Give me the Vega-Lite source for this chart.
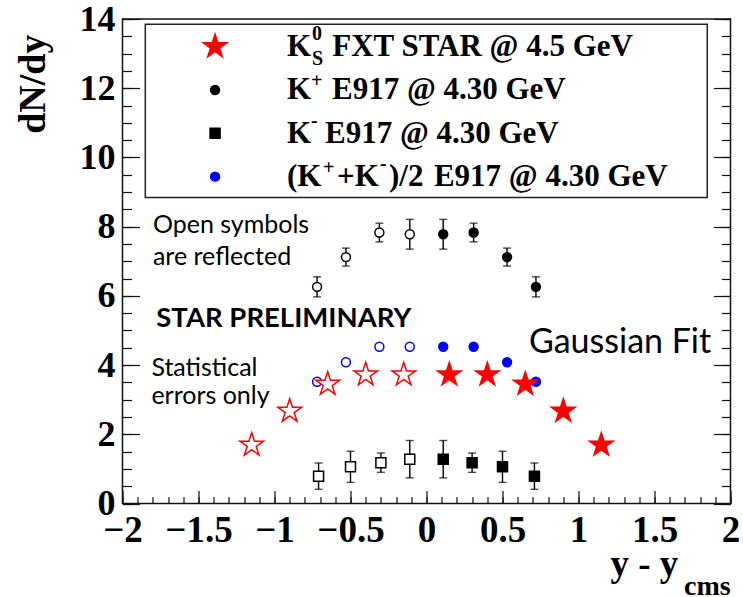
{
  "$schema": "https://vega.github.io/schema/vega-lite/v6.json",
  "width": 608,
  "height": 484.5,
  "autosize": {"type": "none"},
  "padding": {"left": 122.5, "top": 19, "right": 12.5, "bottom": 93.5},
  "background": "white",
  "config": {
    "view": {"stroke": "#111", "strokeWidth": 1.5},
    "axis": {
      "grid": false, "domain": false, "tickColor": "#111", "tickWidth": 1.2,
      "labelFont": "Liberation Serif", "labelFontWeight": "bold", "labelColor": "black",
      "labelFlush": false, "labelOverlap": false, "labelBound": false,
      "titleFont": "Liberation Serif", "titleFontWeight": "bold", "titleColor": "black"
    }
  },
  "datasets": {
    "pts": [
      {"series": "Kp", "rap": 0.11, "dndy": 7.78, "err": 0.43, "reflected": false},
      {"series": "Kp", "rap": 0.31, "dndy": 7.83, "err": 0.27, "reflected": false},
      {"series": "Kp", "rap": 0.53, "dndy": 7.12, "err": 0.26, "reflected": false},
      {"series": "Kp", "rap": 0.72, "dndy": 6.26, "err": 0.29, "reflected": false},
      {"series": "Kp", "rap": -0.11, "dndy": 7.78, "err": 0.43, "reflected": true},
      {"series": "Kp", "rap": -0.31, "dndy": 7.83, "err": 0.27, "reflected": true},
      {"series": "Kp", "rap": -0.53, "dndy": 7.12, "err": 0.26, "reflected": true},
      {"series": "Kp", "rap": -0.72, "dndy": 6.26, "err": 0.29, "reflected": true},
      {"series": "Km", "rap": 0.11, "dndy": 1.28, "err": 0.54, "reflected": false},
      {"series": "Km", "rap": 0.30, "dndy": 1.18, "err": 0.28, "reflected": false},
      {"series": "Km", "rap": 0.50, "dndy": 1.06, "err": 0.45, "reflected": false},
      {"series": "Km", "rap": 0.71, "dndy": 0.79, "err": 0.38, "reflected": false},
      {"series": "Km", "rap": -0.11, "dndy": 1.28, "err": 0.54, "reflected": true},
      {"series": "Km", "rap": -0.30, "dndy": 1.18, "err": 0.28, "reflected": true},
      {"series": "Km", "rap": -0.50, "dndy": 1.06, "err": 0.45, "reflected": true},
      {"series": "Km", "rap": -0.71, "dndy": 0.79, "err": 0.38, "reflected": true},
      {"series": "Kavg", "rap": 0.11, "dndy": 4.53, "err": 0, "reflected": false},
      {"series": "Kavg", "rap": 0.31, "dndy": 4.53, "err": 0, "reflected": false},
      {"series": "Kavg", "rap": 0.53, "dndy": 4.08, "err": 0, "reflected": false},
      {"series": "Kavg", "rap": 0.72, "dndy": 3.52, "err": 0, "reflected": false},
      {"series": "Kavg", "rap": -0.11, "dndy": 4.53, "err": 0, "reflected": true},
      {"series": "Kavg", "rap": -0.31, "dndy": 4.53, "err": 0, "reflected": true},
      {"series": "Kavg", "rap": -0.53, "dndy": 4.08, "err": 0, "reflected": true},
      {"series": "Kavg", "rap": -0.72, "dndy": 3.52, "err": 0, "reflected": true},
      {"series": "K0S", "rap": 0.15, "dndy": 3.72, "err": 0, "reflected": false},
      {"series": "K0S", "rap": 0.40, "dndy": 3.72, "err": 0, "reflected": false},
      {"series": "K0S", "rap": 0.65, "dndy": 3.45, "err": 0, "reflected": false},
      {"series": "K0S", "rap": 0.90, "dndy": 2.67, "err": 0, "reflected": false},
      {"series": "K0S", "rap": 1.15, "dndy": 1.69, "err": 0, "reflected": false},
      {"series": "K0S", "rap": -0.15, "dndy": 3.72, "err": 0, "reflected": true},
      {"series": "K0S", "rap": -0.40, "dndy": 3.72, "err": 0, "reflected": true},
      {"series": "K0S", "rap": -0.65, "dndy": 3.45, "err": 0, "reflected": true},
      {"series": "K0S", "rap": -0.90, "dndy": 2.67, "err": 0, "reflected": true},
      {"series": "K0S", "rap": -1.15, "dndy": 1.69, "err": 0, "reflected": true}
    ],
    "legendSym": [
      {"series": "K0S", "x": -1.391, "y": 13.2, "reflected": false},
      {"series": "Kp", "x": -1.391, "y": 11.95, "reflected": false},
      {"series": "Km", "x": -1.391, "y": 10.70, "reflected": false},
      {"series": "Kavg", "x": -1.391, "y": 9.445, "reflected": false}
    ],
    "legendMain": [
      {"x": -0.918, "y": 12.93, "text": "K"},
      {"x": -0.62, "y": 12.93, "text": "FXT STAR @ 4.5 GeV"},
      {"x": -0.918, "y": 11.69, "text": "K"},
      {"x": -0.622, "y": 11.69, "text": "E917 @ 4.30 GeV"},
      {"x": -0.918, "y": 10.42, "text": "K"},
      {"x": -0.668, "y": 10.42, "text": "E917 @ 4.30 GeV"},
      {"x": -0.918, "y": 9.18, "text": "(K"},
      {"x": -0.589, "y": 9.18, "text": "+K"},
      {"x": -0.247, "y": 9.18, "text": ")/2"},
      {"x": 0.049, "y": 9.18, "text": "E917 @ 4.30 GeV"}
    ],
    "legendSup": [
      {"x": -0.753, "y": 13.40, "text": "0"},
      {"x": -0.753, "y": 12.67, "text": "S"},
      {"x": -0.76, "y": 12.04, "text": "+"},
      {"x": -0.76, "y": 10.88, "text": "-"},
      {"x": -0.681, "y": 9.52, "text": "+"},
      {"x": -0.306, "y": 9.64, "text": "-"}
    ]
  },
  "resolve": {"axis": {"x": "independent", "y": "independent"}},
  "layer": [
    {
      "data": {"name": "pts"},
      "mark": {"type": "point", "opacity": 0},
      "encoding": {
        "x": {"field": "rap", "type": "quantitative", "scale": {"domain": [-2, 2], "nice": false, "zero": false},
          "axis": {"orient": "bottom", "values": [-2, -1.5, -1, -0.5, 0, 0.5, 1, 1.5, 2], "format": "~g",
            "tickSize": -13, "labelFontSize": 37, "labelBaseline": "alphabetic", "labelPadding": 51,
            "title": "y - y", "titleFontSize": 37, "titleX": 487.5, "titleY": 71.5, "titleAlign": "left", "titleBaseline": "alphabetic"}},
        "y": {"field": "dndy", "type": "quantitative", "scale": {"domain": [0, 14], "nice": false, "zero": false},
          "axis": {"orient": "left", "values": [0, 2, 4, 6, 8, 10, 12, 14], "format": "~g",
            "tickSize": -17, "labelFontSize": 36, "labelBaseline": "middle", "labelPadding": 24.5,
            "title": "dN/dy", "titleFontSize": 38, "titleAngle": -90, "titleAlign": "right", "titleBaseline": "alphabetic", "titleX": -78, "titleY": 15}}
      }
    },
    {
      "data": {"name": "pts"},
      "mark": {"type": "point", "opacity": 0},
      "encoding": {
        "x": {"field": "rap", "type": "quantitative", "scale": {"domain": [-2, 2], "nice": false, "zero": false},
          "axis": {"orient": "bottom", "values": [-2, -1.9, -1.8, -1.7, -1.6, -1.5, -1.4, -1.3, -1.2, -1.1, -1, -0.9, -0.8, -0.7, -0.6, -0.5, -0.4, -0.3, -0.2, -0.1, 0, 0.1, 0.2, 0.3, 0.4, 0.5, 0.6, 0.7, 0.8, 0.9, 1, 1.1, 1.2, 1.3, 1.4, 1.5, 1.6, 1.7, 1.8, 1.9, 2],
            "tickSize": -7, "labels": false, "title": null}},
        "y": {"field": "dndy", "type": "quantitative", "scale": {"domain": [0, 14], "nice": false, "zero": false},
          "axis": {"orient": "left", "values": [0, 0.5, 1, 1.5, 2, 2.5, 3, 3.5, 4, 4.5, 5, 5.5, 6, 6.5, 7, 7.5, 8, 8.5, 9, 9.5, 10, 10.5, 11, 11.5, 12, 12.5, 13, 13.5, 14],
            "tickSize": -9, "labels": false, "title": null}}
      }
    },
    {
      "data": {"name": "pts"},
      "mark": {"type": "point", "opacity": 0},
      "encoding": {
        "x": {"field": "rap", "type": "quantitative", "scale": {"domain": [-2, 2], "nice": false, "zero": false}, "axis": null},
        "y": {"field": "dndy", "type": "quantitative", "scale": {"domain": [0, 14], "nice": false, "zero": false},
          "axis": {"orient": "right", "values": [0, 2, 4, 6, 8, 10, 12, 14], "tickSize": -17, "labels": false, "title": null}}
      }
    },
    {
      "data": {"name": "pts"},
      "mark": {"type": "point", "opacity": 0},
      "encoding": {
        "x": {"field": "rap", "type": "quantitative", "scale": {"domain": [-2, 2], "nice": false, "zero": false}, "axis": null},
        "y": {"field": "dndy", "type": "quantitative", "scale": {"domain": [0, 14], "nice": false, "zero": false},
          "axis": {"orient": "right", "values": [0, 0.5, 1, 1.5, 2, 2.5, 3, 3.5, 4, 4.5, 5, 5.5, 6, 6.5, 7, 7.5, 8, 8.5, 9, 9.5, 10, 10.5, 11, 11.5, 12, 12.5, 13, 13.5, 14],
            "tickSize": -9, "labels": false, "title": null}}
      }
    },
    {
      "data": {"name": "pts"},
      "transform": [{"filter": "datum.err > 0"}],
      "mark": {"type": "errorbar", "ticks": {"size": 8}, "color": "black", "thickness": 1.4},
      "encoding": {
        "x": {"field": "rap", "type": "quantitative", "scale": {"domain": [-2, 2], "nice": false, "zero": false}, "axis": null},
        "y": {"field": "dndy", "type": "quantitative", "scale": {"domain": [0, 14], "nice": false, "zero": false}, "axis": null},
        "yError": {"field": "err"}
      }
    },
    {
      "data": {"name": "pts"},
      "mark": {"type": "point", "strokeWidth": 1.5, "opacity": 1},
      "encoding": {
        "x": {"field": "rap", "type": "quantitative", "scale": {"domain": [-2, 2], "nice": false, "zero": false}, "axis": null},
        "y": {"field": "dndy", "type": "quantitative", "scale": {"domain": [0, 14], "nice": false, "zero": false}, "axis": null},
        "shape": {"field": "series", "type": "nominal", "legend": null,
          "scale": {"domain": ["K0S", "Kp", "Km", "Kavg"], "range": ["M0,-1L0.2245,-0.309L0.951,-0.309L0.3633,0.118L0.588,0.809L0,0.382L-0.588,0.809L-0.3633,0.118L-0.951,-0.309L-0.2245,-0.309Z", "circle", "square", "circle"]}},
        "stroke": {"field": "series", "type": "nominal", "legend": null,
          "scale": {"domain": ["K0S", "Kp", "Km", "Kavg"], "range": ["#ff0000", "#000000", "#000000", "#0000ff"]}},
        "fill": {"condition": {"test": "datum.reflected", "value": "white"}, "field": "series", "type": "nominal", "legend": null,
          "scale": {"domain": ["K0S", "Kp", "Km", "Kavg"], "range": ["#ff0000", "#000000", "#000000", "#0000ff"]}},
        "size": {"field": "series", "type": "nominal", "legend": null,
          "scale": {"type": "ordinal", "domain": ["K0S", "Kp", "Km", "Kavg"], "range": [620, 80, 100, 80]}}
      }
    },
    {
      "data": {"values": [{"x1": -1.85, "x2": 1.847, "y1": 8.84, "y2": 13.85}]},
      "mark": {"type": "rect", "fill": "white", "stroke": "#222", "strokeWidth": 1.5},
      "encoding": {
        "x": {"field": "x1", "type": "quantitative", "scale": {"domain": [-2, 2], "nice": false, "zero": false}, "axis": null},
        "x2": {"field": "x2"},
        "y": {"field": "y1", "type": "quantitative", "scale": {"domain": [0, 14], "nice": false, "zero": false}, "axis": null},
        "y2": {"field": "y2"}
      }
    },
    {
      "data": {"name": "legendSym"},
      "mark": {"type": "point", "strokeWidth": 1.5, "opacity": 1},
      "encoding": {
        "x": {"field": "x", "type": "quantitative", "scale": {"domain": [-2, 2], "nice": false, "zero": false}, "axis": null},
        "y": {"field": "y", "type": "quantitative", "scale": {"domain": [0, 14], "nice": false, "zero": false}, "axis": null},
        "shape": {"field": "series", "type": "nominal", "legend": null,
          "scale": {"domain": ["K0S", "Kp", "Km", "Kavg"], "range": ["M0,-1L0.2245,-0.309L0.951,-0.309L0.3633,0.118L0.588,0.809L0,0.382L-0.588,0.809L-0.3633,0.118L-0.951,-0.309L-0.2245,-0.309Z", "circle", "square", "circle"]}},
        "stroke": {"field": "series", "type": "nominal", "legend": null,
          "scale": {"domain": ["K0S", "Kp", "Km", "Kavg"], "range": ["#ff0000", "#000000", "#000000", "#0000ff"]}},
        "fill": {"condition": {"test": "datum.reflected", "value": "white"}, "field": "series", "type": "nominal", "legend": null,
          "scale": {"domain": ["K0S", "Kp", "Km", "Kavg"], "range": ["#ff0000", "#000000", "#000000", "#0000ff"]}},
        "size": {"field": "series", "type": "nominal", "legend": null,
          "scale": {"type": "ordinal", "domain": ["K0S", "Kp", "Km", "Kavg"], "range": [620, 80, 100, 80]}}
      }
    },
    {
      "data": {"name": "legendMain"},
      "mark": {"type": "text", "font": "Liberation Serif", "fontWeight": "bold", "fontSize": 31, "align": "left", "baseline": "alphabetic", "color": "black"},
      "encoding": {
        "x": {"field": "x", "type": "quantitative", "scale": {"domain": [-2, 2], "nice": false, "zero": false}, "axis": null},
        "y": {"field": "y", "type": "quantitative", "scale": {"domain": [0, 14], "nice": false, "zero": false}, "axis": null},
        "text": {"field": "text"}
      }
    },
    {
      "data": {"name": "legendSup"},
      "mark": {"type": "text", "font": "Liberation Serif", "fontWeight": "bold", "fontSize": 20, "align": "left", "baseline": "alphabetic", "color": "black"},
      "encoding": {
        "x": {"field": "x", "type": "quantitative", "scale": {"domain": [-2, 2], "nice": false, "zero": false}, "axis": null},
        "y": {"field": "y", "type": "quantitative", "scale": {"domain": [0, 14], "nice": false, "zero": false}, "axis": null},
        "text": {"field": "text"}
      }
    },
    {
      "data": {"values": [{"x": 1.694, "y": -2.64, "text": "cms"}]},
      "mark": {"type": "text", "font": "Liberation Serif", "fontWeight": "bold", "fontSize": 28, "align": "left", "baseline": "alphabetic", "color": "black"},
      "encoding": {
        "x": {"field": "x", "type": "quantitative", "scale": {"domain": [-2, 2], "nice": false, "zero": false}, "axis": null},
        "y": {"field": "y", "type": "quantitative", "scale": {"domain": [0, 14], "nice": false, "zero": false}, "axis": null},
        "text": {"field": "text"}
      }
    },
    {
      "data": {"values": [
        {"x": -1.80, "y": 7.82, "text": "Open symbols"},
        {"x": -1.80, "y": 6.89, "text": "are reflected"},
        {"x": -1.81, "y": 3.69, "text": "Statistical"},
        {"x": -1.81, "y": 2.88, "text": "errors only"}
      ]},
      "mark": {"type": "text", "font": "Lato", "fontSize": 25, "align": "left", "baseline": "alphabetic", "color": "black"},
      "encoding": {
        "x": {"field": "x", "type": "quantitative", "scale": {"domain": [-2, 2], "nice": false, "zero": false}, "axis": null},
        "y": {"field": "y", "type": "quantitative", "scale": {"domain": [0, 14], "nice": false, "zero": false}, "axis": null},
        "text": {"field": "text"}
      }
    },
    {
      "data": {"values": [{"x": -1.778, "y": 5.09, "text": "STAR PRELIMINARY"}]},
      "mark": {"type": "text", "font": "Lato", "fontWeight": "bold", "fontSize": 27.5, "align": "left", "baseline": "alphabetic", "color": "black"},
      "encoding": {
        "x": {"field": "x", "type": "quantitative", "scale": {"domain": [-2, 2], "nice": false, "zero": false}, "axis": null},
        "y": {"field": "y", "type": "quantitative", "scale": {"domain": [0, 14], "nice": false, "zero": false}, "axis": null},
        "text": {"field": "text"}
      }
    },
    {
      "data": {"values": [{"x": 0.674, "y": 4.36, "text": "Gaussian Fit"}]},
      "mark": {"type": "text", "font": "Lato", "fontSize": 34, "align": "left", "baseline": "alphabetic", "color": "black"},
      "encoding": {
        "x": {"field": "x", "type": "quantitative", "scale": {"domain": [-2, 2], "nice": false, "zero": false}, "axis": null},
        "y": {"field": "y", "type": "quantitative", "scale": {"domain": [0, 14], "nice": false, "zero": false}, "axis": null},
        "text": {"field": "text"}
      }
    }
  ]
}
